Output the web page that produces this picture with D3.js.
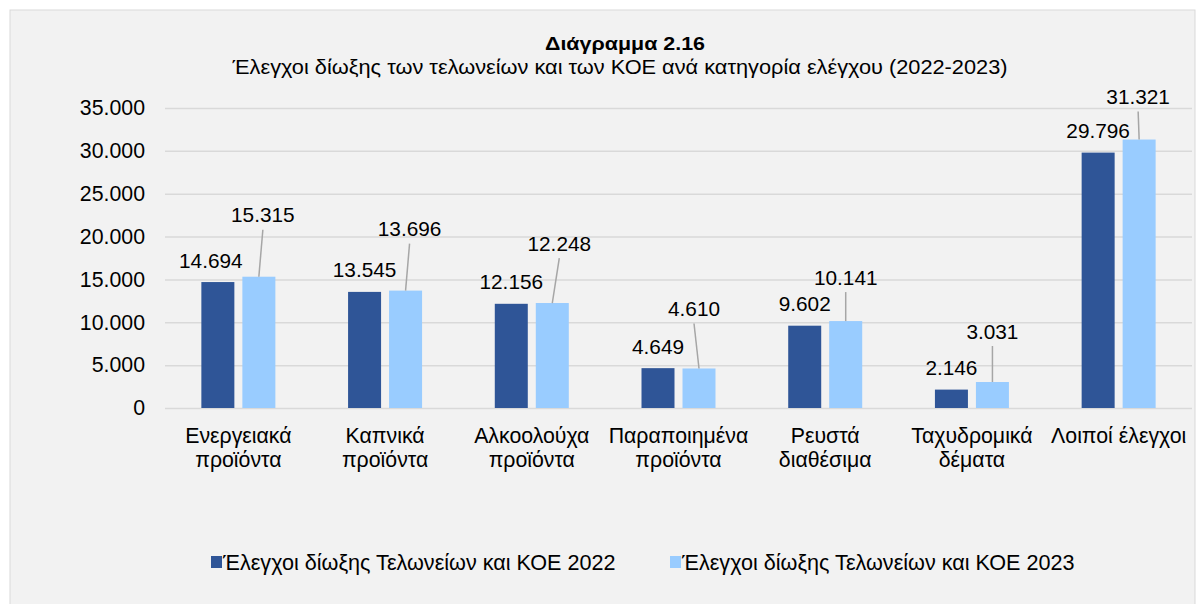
<!DOCTYPE html>
<html><head><meta charset="utf-8">
<script src="https://cdn.jsdelivr.net/npm/d3@7"></script>
<style>body{margin:0;background:#fff}svg{display:block}text{font-family:"Liberation Sans",Arial,sans-serif;fill:#000}</style>
</head><body>
<svg id="c" width="1200" height="604"></svg>
<script>
const categories = [["Ενεργειακά","προϊόντα"],["Καπνικά","προϊόντα"],["Αλκοολούχα","προϊόντα"],["Παραποιημένα","προϊόντα"],["Ρευστά","διαθέσιμα"],["Ταχυδρομικά","δέματα"],["Λοιποί έλεγχοι"]];
const values2022 = [14694, 13545, 12156, 4649, 9602, 2146, 29796];
const values2023 = [15315, 13696, 12248, 4610, 10141, 3031, 31321];
const seriesNames = ["Έλεγχοι δίωξης Τελωνείων και ΚΟΕ 2022","Έλεγχοι δίωξης Τελωνείων και ΚΟΕ 2023"];
const yTicks = [0,5000,10000,15000,20000,25000,30000,35000];
// label offsets (styling): [dx, dy] relative to bar top/center
const off2023 = [[4,-62],[4,-62],[7,-60],[-5,-60],[0,-44],[0,-51],[-1,-43]];
const off2022 = [[-7,-22],[0,-22],[0,-22],[0,-22],[0,-22],[0,-22],[0,-22]];

const svg = d3.select("#c");
svg.append("rect").attr("x",0).attr("y",0).attr("width",1200).attr("height",604).attr("fill","#fff");
svg.append("rect").attr("x",10).attr("y",10).attr("width",1185).attr("height",600).attr("fill","#f2f2f2").attr("stroke","#d9d9d9").attr("stroke-width",1);

const fmt = v => d3.format(",")(v).replace(/,/g,".");
const x = d3.scaleBand().domain(d3.range(categories.length)).range([165,1192]);
const y = d3.scaleLinear().domain([0,35000]).range([408,108]);
const bw = 33, gap = 8;

const g = svg.append("g");
const yAxis = d3.axisLeft(y).tickValues(yTicks).tickSize(-(1192-165)).tickFormat(fmt).tickPadding(20);
const ya = g.append("g").attr("transform","translate(165,0)").call(yAxis);
ya.select(".domain").remove();
ya.selectAll(".tick line").attr("stroke","#d9d9d9").attr("stroke-width",1.5);
ya.selectAll(".tick text").style("font-size","21.3px").attr("fill","#000").attr("font-family","Liberation Sans, Arial");

const xc = i => x(i) + x.bandwidth()/2;
g.selectAll(".b22").data(values2022).join("rect")
  .attr("x",(d,i)=>xc(i)-gap/2-bw).attr("y",d=>y(d)).attr("width",bw).attr("height",d=>y(0)-y(d)).attr("fill","#2F5597");
g.selectAll(".b23").data(values2023).join("rect")
  .attr("x",(d,i)=>xc(i)+gap/2).attr("y",d=>y(d)).attr("width",bw).attr("height",d=>y(0)-y(d)).attr("fill","#99CCFF");

g.selectAll(".l22").data(values2022).join("text")
  .attr("x",(d,i)=>xc(i)-gap/2-bw/2+off2022[i][0]).attr("y",(d,i)=>y(d)+off2022[i][1])
  .attr("text-anchor","middle").attr("dominant-baseline","central").style("font-size","20.8px").text(fmt);
values2023.forEach((d,i)=>{
  const bx = xc(i)+gap/2+bw/2, by = y(d);
  const lx = bx+off2023[i][0], ly = by+off2023[i][1];
  g.append("line").attr("x1",lx).attr("y1",ly+15).attr("x2",bx).attr("y2",by).attr("stroke","#a6a6a6").attr("stroke-width",1.5);
  g.append("text").attr("x",lx).attr("y",ly).attr("text-anchor","middle").attr("dominant-baseline","central").style("font-size","20.8px").text(fmt(d));
});

categories.forEach((c,i)=>{
  const t = g.append("text").attr("x",xc(i)).attr("y",443).attr("text-anchor","middle").style("font-size","21.3px");
  c.forEach((line,j)=>t.append("tspan").attr("x",xc(i)).attr("dy",j?23.5:0).text(line));
});

svg.append("text").attr("x",625).attr("y",50).attr("text-anchor","middle").style("font-size","19px").style("font-weight","bold")
  .attr("textLength",160).attr("lengthAdjust","spacingAndGlyphs").text("Διάγραμμα 2.16");
svg.append("text").attr("x",620).attr("y",74).attr("text-anchor","middle").style("font-size","19.5px")
  .attr("textLength",775).attr("lengthAdjust","spacingAndGlyphs").text("Έλεγχοι δίωξης των τελωνείων και των ΚΟΕ ανά κατηγορία ελέγχου (2022-2023)");

const legX = [211, 670], legC = ["#2F5597","#99CCFF"];
seriesNames.forEach((s,i)=>{
  svg.append("rect").attr("x",legX[i]).attr("y",556).attr("width",11).attr("height",12).attr("fill",legC[i]);
  svg.append("text").attr("x",legX[i]+12).attr("y",570).style("font-size","21.6px").text(s);
});
</script>
</body></html>
